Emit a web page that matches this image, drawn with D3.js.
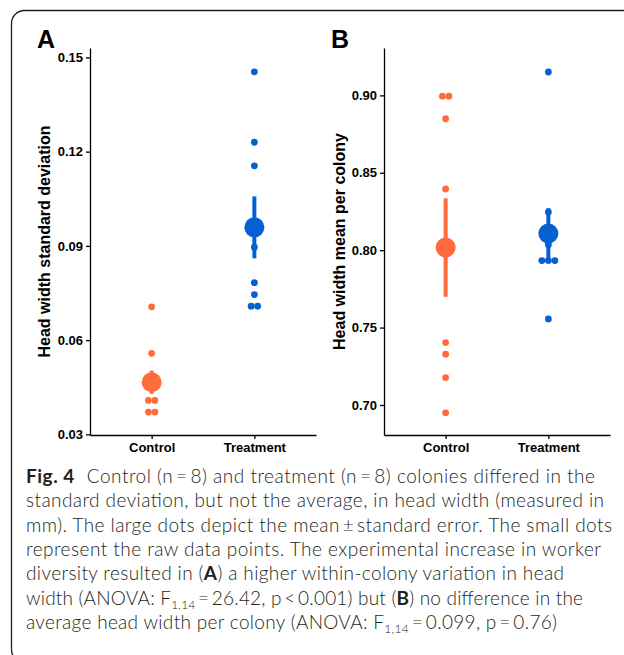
<!DOCTYPE html>
<html>
<head>
<meta charset="utf-8">
<script src="https://cdn.jsdelivr.net/npm/d3@7"></script>
<style>
body { margin: 0; background: #fff; }
.axis text { font-family: "Liberation Sans", Arial, sans-serif; font-weight: bold; font-size: 13px; fill: #000; }
.axis path, .axis line { stroke: #000; stroke-width: 1.3px; }
.ttl { font-family: "Liberation Sans", Arial, sans-serif; font-weight: bold; fill: #000; }
.cap { font-family: Lato, "Open Sans", sans-serif; font-size: 19px; font-weight: 300; fill: #231f20; }
</style>
</head>
<body>
<script>
const groups = ["Control", "Treatment"];

// A: within-colony standard deviation of head width
const sdControl = [0.0706, 0.0558, 0.0408, 0.0408, 0.0371, 0.0371, 0.0452, 0.0451];
const sdTreatment = [0.1454, 0.1230, 0.1155, 0.0896, 0.0783, 0.0745, 0.0708, 0.0708];
const sdMean = [0.0466, 0.0959];
const sdSe = [0.0037, 0.00985];
const sdTicks = [0.03, 0.06, 0.09, 0.12, 0.15];

// B: mean head width per colony
const hwControl = [0.8995, 0.8995, 0.8849, 0.8395, 0.7403, 0.7328, 0.7177, 0.6949];
const hwTreatment = [0.9151, 0.8246, 0.8105, 0.8035, 0.7933, 0.7933, 0.7933, 0.7556];
const hwMean = [0.8017, 0.8108];
const hwSe = [0.0318, 0.0163];
const hwTicks = [0.70, 0.75, 0.80, 0.85, 0.90];

const colors = ["#FF6B3B", "#0561D1"];

const captionLines = [
    [{t: "Fig. 4", b: true}, {t: "Control (n\u2009=\u20098) and treatment (n\u2009=\u20098) colonies differed in the", dx: 12}],
    [{t: "standard deviation, but not the average, in head width (measured in"}],
    [{t: "mm). The large dots depict the mean\u2009\u00b1\u2009standard error. The small dots"}],
    [{t: "represent the raw data points. The experimental increase in worker"}],
    [{t: "diversity resulted in ("}, {t: "A", b: true}, {t: ") a higher within-colony variation in head"}],
    [{t: "width (ANOVA: F"}, {t: "1,14", sub: true}, {t: "\u2009=\u200926.42, p\u2009<\u20090.001) but ("}, {t: "B", b: true}, {t: ") no difference in the"}],
    [{t: "average head width per colony (ANOVA: F"}, {t: "1,14", sub: true}, {t: "\u2009=\u20090.099, p\u2009=\u20090.76)"}]
];
const captionWidths = [569, 578, 586, 575, 538, 557, 531];

const W = 624, H = 655;
const plotTop = 48, plotBottom = 435;

const svg = d3.select("body").append("svg")
    .attr("width", W)
    .attr("height", H);

svg.append("rect")
    .attr("x", 11.5).attr("y", 10.5)
    .attr("width", 700).attr("height", 652)
    .attr("rx", 13)
    .attr("fill", "none")
    .attr("stroke", "#231f20")
    .attr("stroke-width", 1.3);

const panels = [
    {label: "A", title: "Head width standard deviation", raw: [sdControl, sdTreatment], mean: sdMean, se: sdSe,
     ticks: sdTicks, domain: [0.0298, 0.153], left: 90, right: 316, labelX: 37, titleX: 50},
    {label: "B", title: "Head width mean per colony", raw: [hwControl, hwTreatment], mean: hwMean, se: hwSe,
     ticks: hwTicks, domain: [0.6806, 0.9306], left: 384, right: 610, labelX: 331, titleX: 345}
];

panels.forEach(p => {
    const x = d3.scalePoint().domain(groups).range([p.left, p.right]).padding(0.6);
    const y = d3.scaleLinear().domain(p.domain).range([plotBottom, plotTop]);
    const g = svg.append("g");

    g.append("g")
        .attr("class", "axis")
        .attr("transform", "translate(" + p.left + ",0)")
        .call(d3.axisLeft(y).tickValues(p.ticks).tickFormat(d3.format(".2f"))
            .tickSize(4).tickSizeOuter(0).tickPadding(3));
    g.append("g")
        .attr("class", "axis")
        .attr("transform", "translate(0," + plotBottom + ")")
        .call(d3.axisBottom(x).tickSize(4).tickSizeOuter(0).tickPadding(4));

    g.append("text")
        .attr("class", "ttl")
        .attr("x", p.labelX).attr("y", plotTop)
        .style("font-size", "25px")
        .text(p.label);
    g.append("text")
        .attr("class", "ttl")
        .attr("transform", "translate(" + p.titleX + "," + (plotTop + plotBottom) / 2 + ") rotate(-90)")
        .attr("text-anchor", "middle")
        .style("font-size", "16px")
        .text(p.title);

    groups.forEach((grp, gi) => {
        const cx = x(grp);
        // error bar (mean +- se)
        g.append("line")
            .attr("x1", cx).attr("x2", cx)
            .attr("y1", y(p.mean[gi] - p.se[gi]))
            .attr("y2", y(p.mean[gi] + p.se[gi]))
            .attr("stroke", colors[gi])
            .attr("stroke-width", 4);

        // raw points, tied values spread sideways
        const pts = [];
        d3.group(p.raw[gi], d => d).forEach(arr => {
            arr.forEach((v, k) => pts.push({v: v, off: (k - (arr.length - 1) / 2) * 6.5}));
        });
        g.selectAll(null)
            .data(pts)
            .join("circle")
            .attr("cx", d => cx + d.off)
            .attr("cy", d => y(d.v))
            .attr("r", 3.4)
            .attr("fill", colors[gi]);

        g.append("circle")
            .attr("cx", cx)
            .attr("cy", y(p.mean[gi]))
            .attr("r", 10)
            .attr("fill", colors[gi]);
    });
});

// caption
captionLines.forEach((segs, i) => {
    const t = svg.append("text")
        .attr("class", "cap")
        .attr("x", 26)
        .attr("y", 483 + i * 24.3)
        .attr("textLength", captionWidths[i])
        .attr("lengthAdjust", "spacing");
    let shifted = false;
    segs.forEach(s => {
        const ts = t.append("tspan").text(s.t);
        if (s.b) ts.style("font-weight", "bold");
        if (s.dx) ts.attr("dx", s.dx);
        if (s.sub) {
            ts.attr("dy", 4).style("font-size", "12px");
            shifted = true;
        } else if (shifted) {
            ts.attr("dy", -4);
            shifted = false;
        }
    });
});
</script>
</body>
</html>
